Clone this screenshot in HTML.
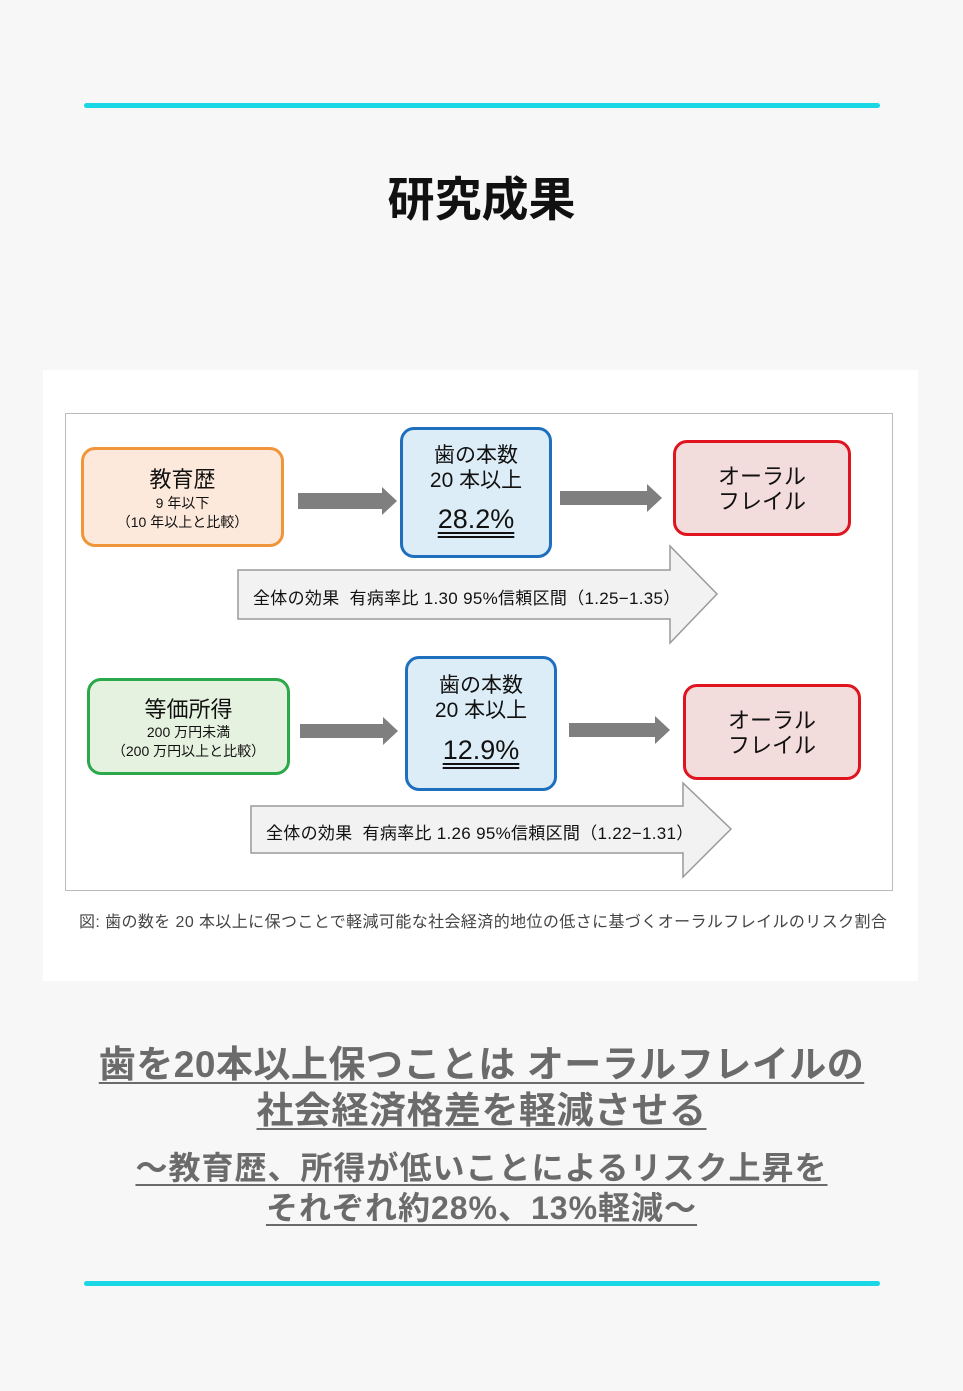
<!DOCTYPE html>
<html><head><meta charset="utf-8"><style>
body{margin:0;width:963px;height:1391px;background:#f7f7f7;position:relative;font-family:"Liberation Sans","Noto Sans CJK JP",sans-serif;overflow:hidden}
.a{position:absolute}
.line{position:absolute;left:84px;width:796px;height:5px;background:#1ad7e6;border-radius:3px}
.box{position:absolute;box-sizing:border-box;border-width:3px;border-style:solid;border-radius:14px;text-align:center;color:#111}
.t{position:absolute;left:0;right:0;text-align:center;white-space:nowrap}
.big{position:absolute;left:0;width:963px;text-align:center;color:#6b6b6b;font-weight:bold;white-space:nowrap}
.big span{text-decoration:underline;text-decoration-thickness:2px;text-underline-offset:5px}
</style></head><body>
<div class="line" style="top:103px"></div>
<div class="line" style="top:1281px"></div>
<div class="a" style="left:0;width:963px;top:161px;text-align:center;font-size:47px;font-weight:bold;color:#111">研究成果</div>
<div class="a" style="left:43px;top:370px;width:875px;height:611px;background:#fff"></div>
<div class="a" style="left:65px;top:413px;width:826px;height:476px;border:1px solid #bbb"></div>

<svg class="a" style="left:0;top:0" width="963" height="1391">
<g fill="#7f7f7f">
<polygon points="298,493 382,493 382,487 397,501 382,515 382,509 298,509"/>
<polygon points="560,491 647,491 647,484 662,498 647,512 647,505 560,505"/>
<polygon points="300,724 383,724 383,717 398,731 383,745 383,738 300,738"/>
<polygon points="569,723 655,723 655,716 670,730 655,744 655,737 569,737"/>
</g>
<g fill="#f2f2f2" stroke="#9a9a9a" stroke-width="1.5">
<polygon points="238,570 670,570 670,546 717,594 670,643 670,619 238,619"/>
<polygon points="251,806 683,806 683,783 731,829 683,877 683,853 251,853"/>
</g>
</svg>

<div class="box" style="left:81px;top:447px;width:203px;height:100px;border-color:#f0953a;background:#fde9dc">
<div class="t" style="top:12px;font-size:22px">教育歴</div>
<div class="t" style="top:43px;font-size:14px">9 年以下</div>
<div class="t" style="top:62px;font-size:14px">（10 年以上と比較）</div></div>
<div class="box" style="left:400px;top:427px;width:152px;height:131px;border-color:#1f6fbf;background:#dcedf7">
<div class="t" style="top:9px;font-size:21px">歯の本数</div>
<div class="t" style="top:34px;font-size:21px">20 本以上</div>
<div class="t" style="top:74px;font-size:27px"><span style="text-decoration:underline double;text-underline-offset:4px">28.2%</span></div></div>
<div class="box" style="left:673px;top:440px;width:178px;height:96px;border-color:#e0141e;background:#f2dcdc">
<div class="t" style="top:16px;font-size:22px">オーラル</div>
<div class="t" style="top:41px;font-size:22px">フレイル</div></div>
<div class="a" style="left:253px;top:584px;font-size:17px;letter-spacing:0.3px;color:#111;white-space:nowrap">全体の効果&nbsp;&nbsp;有病率比 1.30 95%信頼区間（1.25−1.35）</div>

<div class="box" style="left:87px;top:678px;width:203px;height:97px;border-color:#2aa84a;background:#e6f2e0">
<div class="t" style="top:11px;font-size:22px">等価所得</div>
<div class="t" style="top:41px;font-size:14px">200 万円未満</div>
<div class="t" style="top:60px;font-size:14px">（200 万円以上と比較）</div></div>
<div class="box" style="left:405px;top:656px;width:152px;height:135px;border-color:#1f6fbf;background:#dcedf7">
<div class="t" style="top:10px;font-size:21px">歯の本数</div>
<div class="t" style="top:35px;font-size:21px">20 本以上</div>
<div class="t" style="top:76px;font-size:27px"><span style="text-decoration:underline double;text-underline-offset:4px">12.9%</span></div></div>
<div class="box" style="left:683px;top:684px;width:178px;height:96px;border-color:#e0141e;background:#f2dcdc">
<div class="t" style="top:16px;font-size:22px">オーラル</div>
<div class="t" style="top:41px;font-size:22px">フレイル</div></div>
<div class="a" style="left:266px;top:819px;font-size:17px;letter-spacing:0.3px;color:#111;white-space:nowrap">全体の効果&nbsp;&nbsp;有病率比 1.26 95%信頼区間（1.22−1.31）</div>

<div class="a" style="left:79px;top:908px;font-size:16px;letter-spacing:0.4px;color:#444;white-space:nowrap">図: 歯の数を 20 本以上に保つことで軽減可能な社会経済的地位の低さに基づくオーラルフレイルのリスク割合</div>

<div class="big" style="top:1034px;font-size:37px;letter-spacing:0.5px"><span>歯を20本以上保つことは オーラルフレイルの</span></div>
<div class="big" style="top:1080px;font-size:37px;letter-spacing:0.5px"><span>社会経済格差を軽減させる</span></div>
<div class="big" style="top:1143px;font-size:32px;letter-spacing:1px"><span>～教育歴、所得が低いことによるリスク上昇を</span></div>
<div class="big" style="top:1183px;font-size:32px;letter-spacing:1px"><span>それぞれ約28%、13%軽減～</span></div>
</body></html>
